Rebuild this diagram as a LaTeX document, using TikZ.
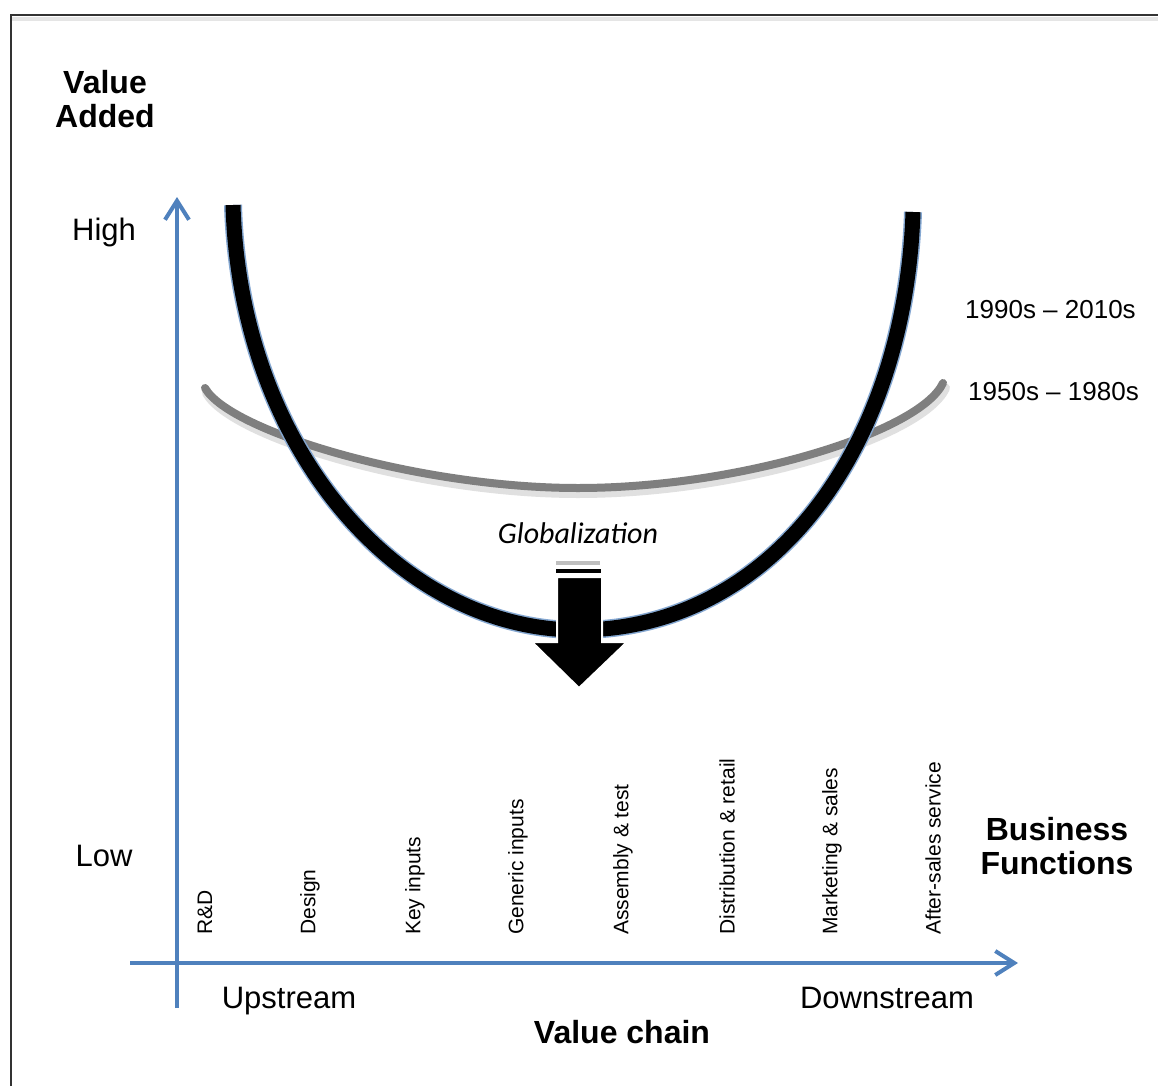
\documentclass[tikz,border=0pt]{standalone}
\usepackage{fontspec}
\setmainfont{Liberation Sans}
\newfontfamily\calib{Carlito}
\usetikzlibrary{arrows.meta}
\definecolor{axisblue}{HTML}{4F81BD}
\definecolor{curvegray}{HTML}{7F7F7F}
\begin{document}
\begin{tikzpicture}[x=1pt,y=-1pt,
 axis/.style={draw=axisblue,line width=4pt},
 axtip/.style={-{Straight Barb[length=19pt,width=24pt]}},
 lbl/.style={inner sep=0pt,anchor=base,font=\fontsize{31}{36}\selectfont},
 blbl/.style={inner sep=0pt,font=\fontsize{32}{34}\selectfont\bfseries,align=center},
 yr/.style={inner sep=0pt,anchor=west,font=\fontsize{26}{30}\selectfont},
 fn/.style={inner sep=0pt,rotate=90,anchor=west,font=\fontsize{21}{24}\selectfont},
 oldcurve/.style={draw=curvegray,line width=8pt,line cap=round},
 newcurve/.style={draw=black,line width=15pt},
 newedge/.style={draw=axisblue!70,line width=18pt}]
\useasboundingbox (0,0) rectangle (1158,1086);
\fill[white] (0,0) rectangle (1158,1086);
% frame
\fill[black!10] (12,17) rectangle (1158,21);
\draw[line width=2pt, black!80] (11,1086) -- (11,15) -- (1158,15);
% axes
\coordinate (yb) at (177,1008);
\coordinate (yt) at (177,197);
\coordinate (xl) at (130,963);
\coordinate (xr) at (1018,963);
\draw[axis,axtip] (yb) -- (yt);
\draw[axis,axtip] (xl) -- (xr);
% 1950s-1980s curve (with soft shadow)
\draw[draw=black!12,line width=10pt,line cap=round]
  (207,393) .. controls (232,437) and (420,493) .. (578,493)
  .. controls (740,493) and (922,437) .. (945,388);
\draw[oldcurve]
  (205,388) .. controls (230,432) and (420,488) .. (578,488)
  .. controls (740,488) and (920,432) .. (943,383);
% 1990s-2010s smile curve
\draw[newedge]
  (233,205) .. controls (240,450) and (400,630) .. (578,630)
  .. controls (770,630) and (905,450) .. (913,212);
\draw[newcurve]
  (233,205) .. controls (240,450) and (400,630) .. (578,630)
  .. controls (770,630) and (905,450) .. (913,212);
% globalization arrow
\fill[black!25] (556,561) rectangle (600,565);
\fill[black] (556,569) rectangle (601,573);
\filldraw[fill=black,draw=white,line width=2pt,line join=miter]
  (557,577) -- (602,577) -- (602,642) -- (627,642) -- (579,688)
  -- (532,642) -- (557,642) -- cycle;
% labels
\node[blbl] (va) at (105,99) {Value\\Added};
\node[lbl] (high) at (104,240) {High};
\node[lbl] (low) at (104,866) {Low};
\node[blbl] (bf) at (1057,846) {Business\\Functions};
\node[yr] (y90) at (965,310) {1990s -- 2010s};
\node[yr] (y50) at (968,392) {1950s -- 1980s};
\node[inner sep=0pt,font=\calib\itshape\fontsize{30}{34}\selectfont] (glob) at (578,533) {Globalization};
\node[lbl] (up) at (289,1008) {Upstream};
\node[lbl] (down) at (887,1008) {Downstream};
\node[inner sep=0pt,font=\fontsize{32}{34}\selectfont\bfseries] (vc) at (622,1032) {Value chain};
% business functions
\node[fn] (f1) at (205,935) {R\&D};
\node[fn] (f2) at (310,935) {Design};
\node[fn] (f3) at (415,935) {Key inputs};
\node[fn] (f4) at (518,935) {Generic inputs};
\node[fn] (f5) at (623,935) {Assembly \& test};
\node[fn] (f6) at (727,935) {Distribution \& retail};
\node[fn] (f7) at (832,935) {Marketing \& sales};
\node[fn] (f8) at (933,935) {After-sales service};
\end{tikzpicture}
\end{document}
